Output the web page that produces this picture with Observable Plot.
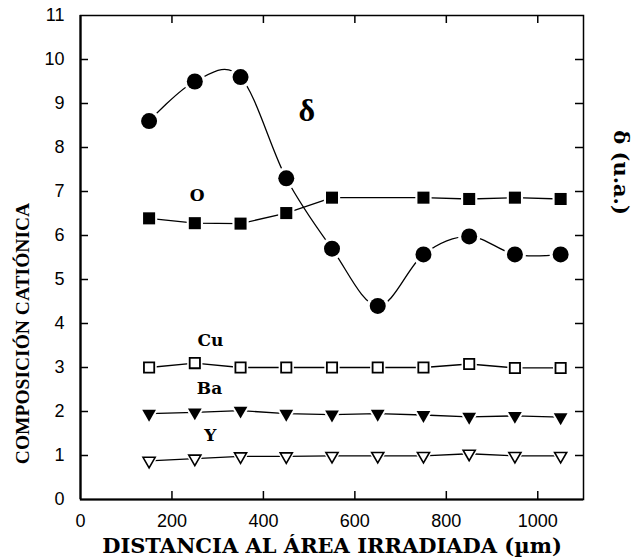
<!DOCTYPE html>
<html>
<head>
<meta charset="utf-8">
<script src="https://cdn.jsdelivr.net/npm/d3@7"></script>
<script src="https://cdn.jsdelivr.net/npm/@observablehq/plot@0.6"></script>
<style>
  html, body { margin: 0; padding: 0; background: #fff; }
</style>
</head>
<body>
<div id="chart"></div>
<script>
// Distance from the irradiated area (µm) at which each profile was sampled
const distance = [150, 250, 350, 450, 550, 650, 750, 850, 950, 1050];

// δ (arbitrary units)
const delta = [8.6, 9.5, 9.6, 7.3, 5.7, 4.4, 5.57, 5.98, 5.57, 5.57];

// Oxygen has no sample at 650 µm
const oxygenDistance = [150, 250, 350, 450, 550, 750, 850, 950, 1050];
const oxygen = [6.39, 6.28, 6.27, 6.51, 6.86, 6.86, 6.83, 6.86, 6.83];

// Cation composition
const copper  = [3.0, 3.1, 3.0, 3.0, 3.0, 3.0, 3.0, 3.08, 2.99, 2.99];
const barium  = [1.95, 1.98, 2.02, 1.95, 1.93, 1.95, 1.92, 1.88, 1.9, 1.87];
const yttrium = [0.88, 0.93, 0.98, 0.98, 0.99, 0.99, 0.99, 1.04, 0.99, 0.99];

// Axis ticks
const xTicks = [0, 200, 400, 600, 800, 1000];
const yTicks = [0, 1, 2, 3, 4, 5, 6, 7, 8, 9, 10, 11];

// Series names written next to the curves (data coordinates)
const seriesNames = ["O", "Cu", "Ba", "Y"];
const seriesNameX = [255, 284, 282, 284];
const seriesNameY = [6.9, 3.61, 2.52, 1.45];
const deltaName = {text: "δ", x: 495, y: 8.84};

// Axis titles
const xTitle = "DISTANCIA AL ÁREA IRRADIADA (µm)";
const yTitle = "COMPOSICIÓN CATIÓNICA";
const y2Title = "δ (u.a.)";

const rows = (xs, ys) => xs.map((x, i) => ({x, y: ys[i]}));
const deltaRows = rows(distance, delta);
const oxygenRows = rows(oxygenDistance, oxygen);
const copperRows = rows(distance, copper);
const bariumRows = rows(distance, barium);
const yttriumRows = rows(distance, yttrium);
const nameRows = seriesNames.map((text, i) => ({text, x: seriesNameX[i], y: seriesNameY[i]}));

const W = 637, H = 560;
const mL = 80, mR = 54, mT = 15, mB = 61;
const innerW = W - mL - mR, innerH = H - mT - mB;
const tickLen = 8;

const serif = "'DejaVu Serif', serif";
const times = "'Liberation Serif', 'Times New Roman', serif";

const inner = (t) => t.slice(1, -1);

const chart = Plot.plot({
  width: W,
  height: H,
  marginLeft: mL,
  marginRight: mR,
  marginTop: mT,
  marginBottom: mB,
  x: {domain: [0, 1100]},
  y: {domain: [0, 11]},
  style: {fontFamily: "'Liberation Sans', Arial, sans-serif", fontSize: "18px", color: "#000", background: "#fff"},
  marks: [
    // tick labels
    Plot.axisX({ticks: xTicks, tickFormat: (d) => String(d), tickSize: 0, tickPadding: 15, label: null, fontSize: 18}),
    Plot.axisY({ticks: yTicks, tickFormat: (d) => String(d), tickSize: 0, tickPadding: 16, label: null, fontSize: 18}),

    // inward ticks on all four sides
    Plot.tickX(xTicks.slice(1), {x: (d) => d, insetTop: innerH - tickLen, strokeWidth: 1.5}),
    Plot.tickX(xTicks.slice(1), {x: (d) => d, insetBottom: innerH - tickLen, strokeWidth: 1.5}),
    Plot.tickY(inner(yTicks), {y: (d) => d, insetRight: innerW - tickLen, strokeWidth: 1.5}),
    Plot.tickY(inner(yTicks), {y: (d) => d, insetLeft: innerW - tickLen, strokeWidth: 1.5}),

    // frame
    Plot.frame({stroke: "#000", strokeWidth: 1.5}),
    Plot.ruleX([0], {strokeWidth: 2.2}),
    Plot.ruleY([0], {strokeWidth: 2.2}),

    // connecting lines
    Plot.line(deltaRows, {x: "x", y: "y", curve: "cardinal", tension: 0, stroke: "#000", strokeWidth: 1.3}),
    Plot.line(oxygenRows, {x: "x", y: "y", stroke: "#000", strokeWidth: 1.3}),
    Plot.line(copperRows, {x: "x", y: "y", stroke: "#000", strokeWidth: 1.3}),
    Plot.line(bariumRows, {x: "x", y: "y", stroke: "#000", strokeWidth: 1.3}),
    Plot.line(yttriumRows, {x: "x", y: "y", stroke: "#000", strokeWidth: 1.3}),

    // white clearance around each marker
    Plot.dot(deltaRows, {x: "x", y: "y", r: 11, fill: "#fff"}),
    Plot.dot(oxygenRows, {x: "x", y: "y", symbol: "square", r: 9.2, fill: "#fff"}),
    Plot.dot(copperRows, {x: "x", y: "y", symbol: "square", r: 8.6, fill: "#fff"}),
    Plot.dot(bariumRows, {x: "x", y: "y", symbol: "triangle", rotate: 180, r: 7.6, fill: "#fff"}),
    Plot.dot(yttriumRows, {x: "x", y: "y", symbol: "triangle", rotate: 180, r: 7.2, fill: "#fff"}),

    // markers
    Plot.dot(deltaRows, {x: "x", y: "y", r: 8, fill: "#000"}),
    Plot.dot(oxygenRows, {x: "x", y: "y", symbol: "square", r: 6.8, fill: "#000"}),
    Plot.dot(copperRows, {x: "x", y: "y", symbol: "square", r: 5.8, fill: "#fff", stroke: "#000", strokeWidth: 1.8}),
    Plot.dot(bariumRows, {x: "x", y: "y", symbol: "triangle", rotate: 180, r: 5.1, fill: "#000"}),
    Plot.dot(yttriumRows, {x: "x", y: "y", symbol: "triangle", rotate: 180, r: 4.5, fill: "#fff", stroke: "#000", strokeWidth: 1.6}),

    // series names
    Plot.text(nameRows, {x: "x", y: "y", text: "text", fontFamily: serif, fontWeight: "bold", fontSize: 17}),
    Plot.text([deltaName], {x: "x", y: "y", text: "text", fontFamily: times, fontWeight: "bold", fontSize: 32}),

    // axis titles
    Plot.text([xTitle], {frameAnchor: "bottom", textAnchor: "middle", lineAnchor: "middle", dy: 47,
      fontFamily: serif, fontWeight: "bold", fontSize: 21}),
    Plot.text([yTitle], {frameAnchor: "left", textAnchor: "middle", lineAnchor: "middle", dx: -58, dy: 76, rotate: -90,
      fontFamily: times, fontWeight: "bold", fontSize: 19.5}),
    Plot.text([y2Title], {frameAnchor: "right", textAnchor: "middle", lineAnchor: "middle", dx: 37, dy: -85, rotate: 90,
      fontFamily: serif, fontWeight: "bold", fontSize: 21})
  ]
});

document.getElementById("chart").append(chart);
</script>
</body>
</html>
